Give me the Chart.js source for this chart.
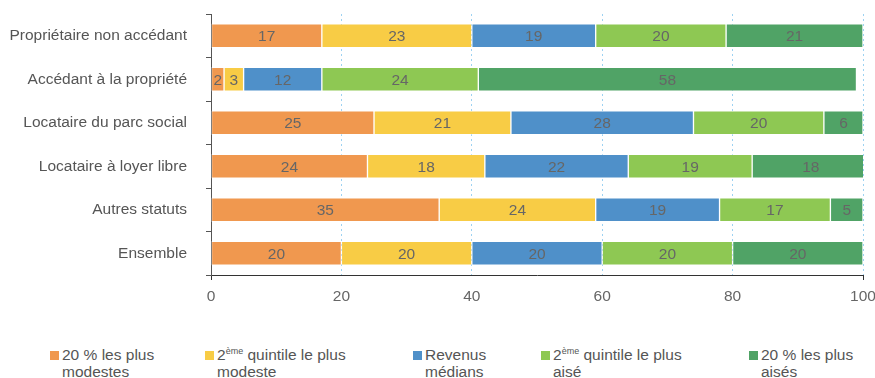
<!DOCTYPE html>
<html>
<head>
<meta charset="utf-8">
<script src="https://cdn.jsdelivr.net/npm/chart.js@4.4.0/dist/chart.umd.min.js"></script>
<style>
  html, body { margin: 0; padding: 0; background: #fff; }
  body { width: 875px; height: 378px; overflow: hidden; position: relative; font-family: "Liberation Sans", Arial, sans-serif; }
  #wrap { position: absolute; left: 0; top: 0; width: 875px; height: 310px; }
  #legend { position: absolute; left: 0; top: 346px; width: 875px; }
  .item { position: absolute; top: 0; font-size: 15.5px; line-height: 17px; color: #555; padding-left: 12px; }
  .item .box { position: absolute; left: 0; top: 5px; width: 9px; height: 9px; }
  .item sup { font-size: 9px; line-height: 0; vertical-align: 6px; }
</style>
</head>
<body>
<div id="wrap"><canvas id="chart"></canvas></div>
<div id="legend"></div>
<script>
// Statuts d'occupation et répartition par quintile (en %)
const categories = [
  'Propriétaire non accédant',
  'Accédant à la propriété',
  'Locataire du parc social',
  'Locataire à loyer libre',
  'Autres statuts',
  'Ensemble'
];
const seriesLabels = [
  '20 % les plus modestes',
  '2ème quintile le plus modeste',
  'Revenus médians',
  '2ème quintile le plus aisé',
  '20 % les plus aisés'
];
const q1 = [17, 2, 25, 24, 35, 20];
const q2 = [23, 3, 21, 18, 24, 20];
const q3 = [19, 12, 28, 22, 19, 20];
const q4 = [20, 24, 20, 19, 17, 20];
const q5 = [21, 58, 6, 18, 5, 20];
const xTicks = [0, 20, 40, 60, 80, 100];

const colors = ['#F0984F', '#F8CC45', '#4F90C9', '#8EC853', '#50A366'];
const series = [q1, q2, q3, q4, q5];
const FONT = '"Liberation Sans", Arial, sans-serif';

// valeur écrite au centre de chaque segment
const segmentLabels = {
  id: 'segmentLabels',
  afterDatasetsDraw(chart) {
    const ctx = chart.ctx;
    ctx.save();
    ctx.font = '15.5px ' + FONT;
    ctx.fillStyle = '#666';
    ctx.textAlign = 'center';
    ctx.textBaseline = 'middle';
    chart.data.datasets.forEach((ds, i) => {
      chart.getDatasetMeta(i).data.forEach((bar, j) => {
        const cx = (bar.x + bar.base) / 2;
        ctx.fillText(String(ds.data[j]), cx, bar.y + 1);
      });
    });
    ctx.restore();
  }
};

const chart = new Chart(document.getElementById('chart'), {
  type: 'bar',
  data: {
    labels: categories,
    datasets: series.map((values, i) => ({
      label: seriesLabels[i],
      data: values,
      backgroundColor: colors[i],
      borderColor: 'rgba(255,255,255,0.35)',
      borderWidth: 1,
      borderSkipped: false,
      barThickness: 24
    }))
  },
  options: {
    indexAxis: 'y',
    responsive: true,
    maintainAspectRatio: false,
    animation: false,
    layout: { padding: { top: 14, right: 0, left: 0, bottom: 0 } },
    plugins: {
      legend: { display: false },
      tooltip: { enabled: false }
    },
    scales: {
      x: {
        stacked: true,
        min: 0,
        max: 100,
        afterBuildTicks(scale) {
          scale.ticks = xTicks.map(v => ({ value: v }));
        },
        afterFit(scale) {
          scale.height = 35;
          scale.paddingRight = 12;
          scale.paddingLeft = 0;
        },
        ticks: {
          font: { family: FONT, size: 15.5 },
          color: '#666',
          padding: 7
        },
        grid: {
          color: ctx => ctx.tick && ctx.tick.value === 0 ? 'rgba(0,0,0,0)' : '#9DD2F2',
          lineWidth: 1,
          tickLength: 5,
          tickColor: ctx => ctx.tick && (ctx.tick.value === 0 || ctx.tick.value === 100) ? '#333' : 'rgba(0,0,0,0)',
          tickBorderDash: []
        },
        border: { display: true, color: '#333', width: 1, dash: [2, 3] }
      },
      y: {
        stacked: true,
        afterFit(scale) {
          scale.width = 211;
          scale.paddingTop = 0;
          scale.paddingBottom = 0;
        },
        ticks: {
          font: { family: FONT, size: 15.5 },
          color: '#555',
          padding: 19
        },
        grid: {
          drawOnChartArea: false,
          offset: true,
          tickLength: 5,
          color: '#555'
        },
        border: { display: true, color: '#555', width: 1 }
      }
    }
  },
  plugins: [segmentLabels]
});

// légende en HTML (exposants « ème »)
const legendLeft = [50, 205, 413, 541, 749];
const legendWidth = [100, 135, 70, 135, 100];
const legend = document.getElementById('legend');
chart.data.datasets.forEach((ds, i) => {
  const item = document.createElement('div');
  item.className = 'item';
  item.style.left = legendLeft[i] + 'px';
  item.style.width = legendWidth[i] + 'px';
  const box = document.createElement('span');
  box.className = 'box';
  box.style.background = ds.backgroundColor;
  item.appendChild(box);
  const text = document.createElement('span');
  text.innerHTML = ds.label.replace('ème', '<sup>ème</sup>');
  item.appendChild(text);
  legend.appendChild(item);
});
</script>
</body>
</html>
